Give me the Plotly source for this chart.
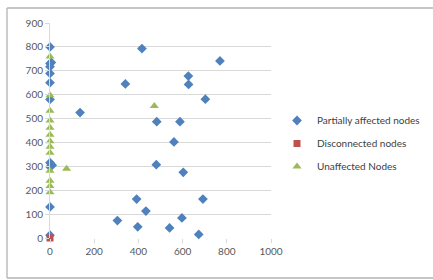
import plotly.graph_objects as go

partial_x = [0, 416, 769, 341, 626, 627, 703, 136, 483, 588, 561, 481, 603, 392, 692, 434, 305, 397, 541, 597, 673,
             0, 6, 0, 0, 0, 0, 0, 10, 0, 0, 0]
partial_y = [800, 793, 741, 645, 678, 643, 581, 525, 487, 487, 402, 307, 275, 163, 163, 113, 73, 47, 42, 84, 15,
             730, 735, 717, 689, 650, 580, 315, 305, 298, 130, 12]

disconnected_x = [0]
disconnected_y = [0]

unaffected_x = [0, 0, 0, 0, 0, 0, 0, 0, 0, 0, 0, 0, 0, 75, 472]
unaffected_y = [760, 598, 533, 492, 462, 432, 405, 382, 357, 282, 240, 218, 192, 290, 553]

x_ticks = [0, 200, 400, 600, 800, 1000]
y_ticks = [0, 100, 200, 300, 400, 500, 600, 700, 800, 900]

BLUE = "#4F81BD"
RED = "#C0504D"
GREEN = "#9BBB59"
FONT = "Lato"

fig = go.Figure()
fig.add_trace(go.Scatter(x=partial_x, y=partial_y, mode="markers", name="Partially affected nodes",
                         legendgroup="a", cliponaxis=False,
                         marker=dict(symbol="diamond", size=7.5, color=BLUE)))
fig.add_trace(go.Scatter(x=disconnected_x, y=disconnected_y, mode="markers", name="Disconnected nodes",
                         legendgroup="b", cliponaxis=False,
                         marker=dict(symbol="square", size=7, color=RED)))
fig.add_trace(go.Scatter(x=unaffected_x, y=unaffected_y, mode="markers", name="Unaffected Nodes",
                         legendgroup="c", cliponaxis=False,
                         marker=dict(symbol="triangle-up", size=8, color=GREEN)))

W, H = 433, 280
L, R, T, B = 50, 162, 23, 42
pw, ph = W - L - R, H - T - B

def px(x):
    return (x - L) / pw

def py(y):
    return (H - B - y) / ph

border = dict(color="#B3B3B3", width=1.3)
fig.update_layout(
    width=W, height=H,
    margin=dict(l=L, r=R, t=T, b=B, pad=0, autoexpand=False),
    paper_bgcolor="white", plot_bgcolor="white",
    font=dict(family=FONT, size=10, color="#595959"),
    showlegend=True,
    legend=dict(x=px(277), y=py(106), xanchor="left", yanchor="top",
                font=dict(family=FONT, size=10, color="#404040"),
                tracegroupgap=4, itemwidth=30, bgcolor="rgba(0,0,0,0)"),
    xaxis=dict(range=[0, 1000], tickvals=x_ticks, showgrid=False, zeroline=False,
               showline=False, ticks="outside", ticklen=4, tickcolor="#D9D9D9",
               tickfont=dict(family=FONT, size=10, color="#595959")),
    yaxis=dict(range=[0, 900], tickvals=y_ticks, showgrid=True, gridcolor="#D9D9D9", gridwidth=1,
               zeroline=False, showline=True, linecolor="#D9D9D9", linewidth=1,
               ticks="outside", ticklen=4, tickcolor="#D9D9D9",
               tickfont=dict(family=FONT, size=10, color="#595959")),
    shapes=[
        dict(type="line", xref="paper", yref="paper", x0=px(7), x1=px(433), y0=py(8), y1=py(8), line=border),
        dict(type="line", xref="paper", yref="paper", x0=px(7), x1=px(7), y0=py(8), y1=py(278), line=border),
        dict(type="line", xref="paper", yref="paper", x0=px(7), x1=px(433), y0=py(278), y1=py(278), line=border),
    ],
)

fig.write_html("out.html", config={"displayModeBar": False},
               post_script="document.body.style.margin='0';document.body.style.overflow='hidden';")
